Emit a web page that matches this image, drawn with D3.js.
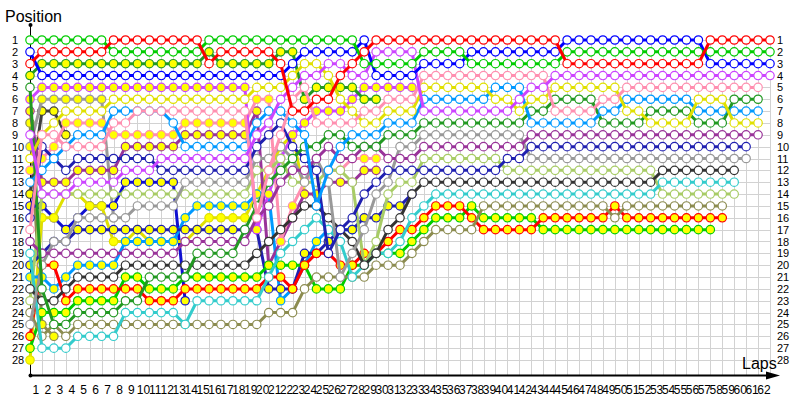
<!DOCTYPE html>
<html>
<head>
<meta charset="utf-8">
<script src="https://cdn.jsdelivr.net/npm/d3@7"></script>
<style>
body { margin: 0; background: #fff; }
svg { display: block; font-family: "Liberation Sans", Arial, sans-serif; }
</style>
</head>
<body>
<svg id="chart" width="800" height="400"></svg>
<script>
// tick labels
const lapTicks = [1,2,3,4,5,6,7,8,9,10,11,12,13,14,15,16,17,18,19,20,21,22,23,24,25,26,27,28,29,30,31,
  32,33,34,35,36,37,38,39,40,41,42,43,44,45,46,47,48,49,50,51,52,53,54,55,56,57,58,59,60,61,62];
const posTicks = [1,2,3,4,5,6,7,8,9,10,11,12,13,14,15,16,17,18,19,20,21,22,23,24,25,26,27,28];

// position of each car from the grid (lap 0) to its last lap
const posRed = [3,2,2,2,2,2,2,1,1,1,1,1,1,1,1,3,2,2,2,2,2,3,7,7,6,6,4,3,2,
  1,1,1,1,1,1,1,1,1,1,1,1,1,1,1,1,3,3,3,3,3,3,3,3,3,3,3,3,1,1,1,1,1,1];
const posGreen = [1,1,1,1,1,1,1,2,2,2,2,2,2,2,2,1,1,1,1,1,1,1,1,1,1,1,1,1,3,3,3,3,3,
  2,2,2,2,3,3,3,3,3,3,3,3,2,2,2,2,2,2,2,2,2,2,2,2,2,2,2,2,2,2];
const posBlue = [2,4,4,4,4,4,4,4,4,4,4,4,4,4,4,4,4,4,4,4,4,4,3,2,2,2,2,2,1,4,4,4,4,
  3,3,3,3,2,2,2,2,2,2,2,2,1,1,1,1,1,1,1,1,1,1,1,1,3,3,3,3,3,3];
const posDkGreenB = [4,3,3,3,3,3,3,3,3,3,3,3,3,3,3,2,3,3,3,3,3,2,2,6,5,5,5,5,6,6];
const posViolet = [9,14,14,14,13,13,13,13,12,12,12,11,11,11,11,11,11,11,11,9,8,6,5,4,4,3,3,4,4,
  2,2,2,2,7,7,7,7,7,7,7,7,6,5,5,4,4,4,4,4,4,4,4,4,4,4,4,4,4,4,4,4,4,4];
const posVioletB = [6,5,5,5,5,5,5,5,5,5,5,5,5,5,5,5,5,5,5,17,14,11,9,8,7,7,7,6,5,5,5,5,5];
const posGreyB = [10,6,6,6,6,6,6,16];
const posDarkB = [14,7,7,9];
const posPink = [17,9,9,10,10,10,10,8,8,7,7,7,7,7,7,7,7,7,7,16,12,9,6,5,8,8,8,8,7,7,6,6,6,
  4,4,4,4,4,4,4,4,4,4,4,7,7,7,7,6,6,5,5,5,5,5,5,5,5,5,5,5,5];
const posPinkB = [12,11,10,8,8,8,8,9,9,9,9,9,9,8,8,8,8,8,8,6,6,18,15,13,12,12,12,11,11,11];
const posYellow = [11,9,8,7,7,7,7,6,6,6,6,6,6,6,6,6,6,6,6,5,5,5,4,3,3,4,6,7,8,8,7,7,7,
  5,5,5,5,5,5,6,6,7,6,6,5,5,5,5,5,5,7,7,8,8,8,8,6,6,6,8,8,8];
const posYellowB = [28,16,16,14,14,15,15,18,18,17,18,18,18,18,17,16,16,16,16,14,12,10,9,14];
const posSky = [13,12,11,10,9,9,9,7,7,7,7,7,8,10,10,10,10,10,10,8,7,7,8,9,15,12,10,9,9,9,8,8,8,
  6,6,6,6,6,6,5,5,5,8,8,8,8,8,8,7,7,6,6,6,6,6,6,7,7,7,7,7,7];
const posSkyB = [21,21,22,21,20,20,20,20,18,18,18,18,18,16,15,15,15,15,15,14,14,23,22,20,18,17,17,17];
const posDkGreen = [5,22,25,25,24,24,24,24,23,23,21,21,21,21,19,19,19,19,17,15,13,12,11,10,10,9,9,10,10,10,9,9,9,
  8,8,8,8,8,8,8,8,8,7,7,6,6,6,6,8,8,8,8,7,7,7,7,8,8,8,6,6,6];
const posPurple = [18,19,19,19,19,19,19,19,19,19,19,19,19,18,18,18,18,18,18,16,15,13,12,12,11,10,11,11,10,10,11,11,11,
  10,10,10,10,10,10,10,10,10,9,9,9,9,9,9,9,9,9,9,9,9,9,9,9,9,9,9,9,9];
const posPurpleB = [7,13,13,13,12,12,12,12,10,10,10,10,10,9,9,9,9,9,9,7,20,18,16,14,14,13,13,13,12,12];
const posNavy = [16,10,11,12,11,11,11,11,11,11,11,12,12,12,12,12,12,12,12,10,9,8,10,11,12,19,17,16,14,13,
  12,12,12,12,12,12,12,12,12,12,11,11,10,10,10,10,10,10,10,10,10,10,10,10,10,10,10,10,10,10,10];
const posNavyB = [20,19,18,18,17,17,17,17,17,17,17,17,17,17,17,17,17,17,17,17,22,22,22,19,19,18,17,17,16,16,15,15,14];
const posBlueB = [15,15,16,17,16,15,15,15,13,13,13,13,13,23];
const posGrey = [25,20,18,18,16,16,16,16,16,15,15,15,15,13,13,13,13,13,13,11,11,10,11,13,11,13,21,19,17,14,13,10,10,
  9,9,9,9,9,9,9,9,9,11,11,11,11,11,11,11,11,11,11,11,11,11,11,11,11,11,11,11];
const posDark = [22,23,23,22,21,21,21,21,20,20,20,20,20,20,20,20,20,20,20,19,18,17,16,15,15,16,17,18,20,19,17,16,14,
  13,13,13,13,13,13,13,13,13,13,13,13,13,13,13,13,13,13,13,13,12,12,12,12,12,12,12];
const posCyan = [19,27,27,27,26,26,26,26,24,24,24,24,24,25,23,23,23,23,23,23,21,19,18,17,16,17,18,21,20,19,19,18,16,
  15,14,14,14,14,14,14,14,14,14,14,14,14,14,14,14,14,14,14,14,13,13,13,13,13,13,13];
const posLime = [23,14,14,14,14,14,14,14,14,14,14,14,14,14,14,14,14,14,14,12,12,11,13,13,13,12,12,13,20,18,14,13,13,
  11,11,11,11,11,11,11,12,12,12,12,12,12,12,12,12,12,12,12,12,14,14,14,14,14,14,14];
const posOlive = [24,26,25,26,25,25,25,25,25,25,25,25,25,25,25,25,25,25,25,25,24,24,24,22,21,21,21,21,21,20,20,20,19,
  18,17,17,17,17,15,15,15,15,15,15,15,15,15,15,15,16,15,15,15,15,15,15,15,15,15];
const posRedB = [26,20,20,23,22,22,22,22,22,22,23,23,23,22,22,22,22,22,22,22,21,21,22,20,19,19,20,20,19,19,18,17,17,
  16,15,15,15,16,17,17,17,17,17,16,16,16,16,16,16,15,16,16,16,16,16,16,16,16,16];
const posGreenB = [27,24,24,24,23,23,23,23,21,21,22,22,22,21,21,21,21,21,21,21,20,20,20,20,22,22,22,20,20,19,19,19,18,
  17,16,16,16,15,16,16,16,16,16,17,17,17,17,17,17,17,17,17,17,17,17,17,17,17];
const posOliveB = [8,25,26];

const drivers = [
  {pos: posOliveB, color: "#8c8c50", fill: "#ffff00"},
  {pos: posDarkB, color: "#404040", fill: "#ffff00"},
  {pos: posGreyB, color: "#999999", fill: "#ffff00"},
  {pos: posBlueB, color: "#1010d0", fill: "#ffff00"},
  {pos: posYellowB, color: "#e0e000", fill: "#ffff00"},
  {pos: posSkyB, color: "#0099ff", fill: "#ffff00"},
  {pos: posNavyB, color: "#2020b0", fill: "#ffff00"},
  {pos: posPurpleB, color: "#993399", fill: "#ffff00"},
  {pos: posPinkB, color: "#ff8fb0", fill: "#ffff00"},
  {pos: posVioletB, color: "#cc44ff", fill: "#ffff00"},
  {pos: posDkGreenB, color: "#229922", fill: "#ffff00"},
  {pos: posGreenB, color: "#00cc00", fill: "#ffff00"},
  {pos: posRedB, color: "#ff0000", fill: "#ffff00"},
  {pos: posOlive, color: "#8c8c50", fill: "#ffffff"},
  {pos: posLime, color: "#a8cc66", fill: "#ffffff"},
  {pos: posCyan, color: "#33cccc", fill: "#ffffff"},
  {pos: posDark, color: "#333333", fill: "#ffffff"},
  {pos: posGrey, color: "#999999", fill: "#ffffff"},
  {pos: posNavy, color: "#2020b0", fill: "#ffffff"},
  {pos: posPurple, color: "#993399", fill: "#ffffff"},
  {pos: posDkGreen, color: "#229922", fill: "#ffffff"},
  {pos: posSky, color: "#0099ff", fill: "#ffffff"},
  {pos: posYellow, color: "#e0e000", fill: "#ffffff"},
  {pos: posPink, color: "#ff8fb0", fill: "#ffffff"},
  {pos: posViolet, color: "#cc44ff", fill: "#ffffff"},
  {pos: posBlue, color: "#0000ff", fill: "#ffffff"},
  {pos: posGreen, color: "#00cc00", fill: "#ffffff"},
  {pos: posRed, color: "#ff0000", fill: "#ffffff"}
];

const svg = d3.select("#chart");
const x = d3.scaleLinear().domain([0, 62]).range([30, 770]);
const y = d3.scaleLinear().domain([1, 28]).range([40, 360]);
const xBand = d3.scaleBand().domain(lapTicks).range([30, 770]);
const axisY = 375;

// grid
const grid = svg.append("g").attr("stroke", "#d2d2d2").attr("stroke-width", 1);
grid.selectAll(".gv").data([0].concat(lapTicks)).enter().append("line")
  .attr("x1", d => Math.round(x(d)) + 0.5).attr("x2", d => Math.round(x(d)) + 0.5)
  .attr("y1", y(1)).attr("y2", axisY);
grid.selectAll(".gh").data(posTicks).enter().append("line")
  .attr("x1", x(0)).attr("x2", x(62))
  .attr("y1", d => Math.round(y(d)) + 0.5).attr("y2", d => Math.round(y(d)) + 0.5);

// axes lines
svg.append("line").attr("x1", 30.5).attr("x2", 30.5).attr("y1", 25).attr("y2", axisY)
  .attr("stroke", "#000");
svg.append("circle").attr("cx", 30.5).attr("cy", 25).attr("r", 2).attr("fill", "#000");
svg.append("line").attr("x1", 30).attr("x2", 770).attr("y1", axisY + 0.5).attr("y2", axisY + 0.5)
  .attr("stroke", "#000").attr("stroke-width", 2);
svg.append("circle").attr("cx", 30.5).attr("cy", axisY + 0.5).attr("r", 2).attr("fill", "#000");
svg.append("path").attr("d", `M766,${axisY - 3.5}L780,${axisY + 0.5}L766,${axisY + 4.5}Z`).attr("fill", "#000");

// tick labels
const xAxis = svg.append("g").attr("transform", `translate(0,${axisY})`)
  .call(d3.axisBottom(xBand).tickSize(0).tickPadding(10));
xAxis.select(".domain").remove();
xAxis.selectAll("text").attr("font-size", 12).attr("font-family", "Liberation Sans, Arial").attr("fill", "#000");

const yLeft = svg.append("g").attr("transform", "translate(12,0)")
  .call(d3.axisLeft(y).tickValues(posTicks).tickFormat(d3.format("d")).tickSize(0));
yLeft.select(".domain").remove();
yLeft.selectAll("text").attr("x", 0).attr("text-anchor", "start")
  .attr("font-size", 11).attr("font-family", "Liberation Sans Narrow, Arial").attr("fill", "#000");

const yRight = svg.append("g").attr("transform", "translate(777,0)")
  .call(d3.axisRight(y).tickValues(posTicks).tickFormat(d3.format("d")).tickSize(0).tickPadding(0));
yRight.select(".domain").remove();
yRight.selectAll("text").attr("font-size", 11).attr("font-family", "Liberation Sans Narrow, Arial").attr("fill", "#000");

svg.append("text").attr("x", 5).attr("y", 22).attr("font-size", 16).text("Position");
svg.append("text").attr("x", 742).attr("y", 369).attr("font-size", 16).text("Laps");

// car traces
const line = d3.line().x((d, i) => x(i)).y(d => y(d));
const cars = svg.append("g").selectAll("g").data(drivers).enter().append("g");
cars.append("path")
  .attr("d", d => line(d.pos))
  .attr("fill", "none")
  .attr("stroke", d => d.color)
  .attr("stroke-width", 3)
  .attr("stroke-linejoin", "round");
cars.selectAll("circle")
  .data(d => d.pos.map((p, i) => ({lap: i, p: p, color: d.color, fill: d.fill})))
  .enter().append("circle")
  .attr("cx", d => x(d.lap))
  .attr("cy", d => y(d.p))
  .attr("r", 4.2)
  .attr("fill", d => d.fill)
  .attr("stroke", d => d.color)
  .attr("stroke-width", 1.2);
</script>
</body>
</html>
